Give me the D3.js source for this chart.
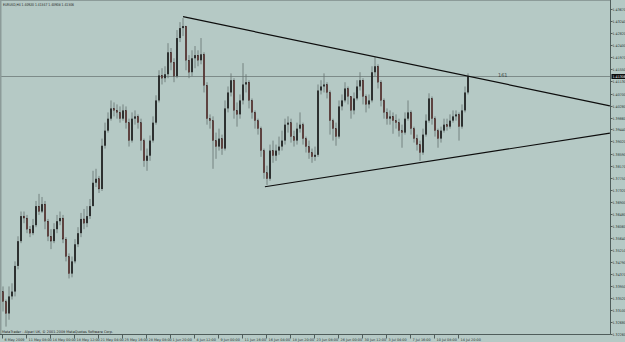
<!DOCTYPE html>
<html>
<head>
<meta charset="utf-8">
<script src="https://cdnjs.cloudflare.com/ajax/libs/d3/7.8.5/d3.min.js"></script>
<style>
  body { margin: 0; background: #b5c9c5; }
  svg { display: block; font-family: "DejaVu Sans", sans-serif; }
  .narrow { font-family: "Liberation Sans Narrow", "DejaVu Sans Condensed", sans-serif; }
</style>
</head>
<body>
<div id="container"></div>
<script>
// EURUSD H4 candles (two H4 bars per candle), open = previous close
const firstOpen = 1.3375;
const closes = [
  1.3340,1.3298,1.3358,1.3375,1.3465,1.3552,1.3640,1.3633,1.3594,1.3580,
  1.3608,1.3675,1.3656,1.3682,1.3622,1.3569,1.3552,1.3594,1.3622,1.3633,
  1.3559,1.3498,1.3438,1.3481,1.3541,1.3580,1.3630,1.3615,1.3640,1.3675,
  1.3757,1.3771,1.3735,1.3887,1.3940,1.3982,1.4018,1.4011,1.4004,1.3982,
  1.4011,1.3968,1.3905,1.3982,1.3990,1.3968,1.3905,1.3834,1.3852,1.3905,
  1.3968,1.4046,1.4134,1.4124,1.4138,1.4215,1.4180,1.4131,1.4265,1.4300,
  1.4307,1.4187,1.4145,1.4194,1.4205,1.4187,1.4208,1.4099,1.3982,1.3975,
  1.3905,1.3884,1.3912,1.3877,1.4018,1.4074,1.4117,1.4011,1.3997,1.4046,
  1.4102,1.4110,1.4046,1.4004,1.3975,1.3947,1.3870,1.3792,1.3771,1.3870,
  1.3852,1.3870,1.3884,1.3905,1.3961,1.3968,1.3919,1.3905,1.3947,1.3961,
  1.3912,1.3884,1.3863,1.3848,1.3855,1.4081,1.4095,1.4102,1.4074,1.3975,
  1.3947,1.3919,1.4025,1.4046,1.4088,1.4060,1.4011,1.4053,1.4095,1.4117,
  1.4060,1.4032,1.4046,1.4145,1.4166,1.4110,1.4046,1.4004,1.3982,1.3990,
  1.3975,1.3968,1.3940,1.3933,1.3982,1.4004,1.3947,1.3912,1.3891,1.3863,
  1.3926,1.3975,1.4053,1.3982,1.3940,1.3912,1.3940,1.3961,1.3954,1.3975,
  1.3990,1.3997,1.3954,1.4011,1.4074,1.41306
];
const highs = [
  1.3393,1.3347,1.3393,1.3404,1.3481,1.3569,1.3656,1.3656,1.3644,1.3605,
  1.3630,1.3693,1.3718,1.3707,1.3693,1.3630,1.3594,1.3615,1.3644,1.3656,
  1.3644,1.3566,1.3509,1.3498,1.3559,1.3601,1.3651,1.3665,1.3675,1.3700,
  1.3799,1.3806,1.3781,1.3912,1.3968,1.4004,1.4046,1.4039,1.4032,1.4025,
  1.4032,1.4025,1.3982,1.4004,1.4011,1.3997,1.3982,1.3912,1.3877,1.3923,
  1.3990,1.4064,1.4152,1.4159,1.4166,1.4247,1.4230,1.4194,1.4293,1.4321,
  1.4335,1.4307,1.4205,1.4222,1.4237,1.4222,1.4265,1.4215,1.4110,1.3997,
  1.3990,1.3933,1.3947,1.3926,1.4046,1.4095,1.4141,1.4124,1.4039,1.4067,
  1.4177,1.4138,1.4117,1.4053,1.4011,1.3982,1.3954,1.3877,1.3817,1.3891,
  1.3905,1.3891,1.3919,1.3940,1.3982,1.3990,1.3982,1.3940,1.3968,1.4004,
  1.3968,1.3919,1.3905,1.3877,1.3884,1.4102,1.4117,1.4141,1.4110,1.4081,
  1.3982,1.3968,1.4046,1.4067,1.4110,1.4095,1.4060,1.4074,1.4117,1.4145,
  1.4124,1.4067,1.4067,1.4166,1.4198,1.4173,1.4117,1.4053,1.4018,1.4011,
  1.4004,1.3997,1.3982,1.3961,1.4004,1.4046,1.4011,1.3954,1.3926,1.3905,
  1.3947,1.3997,1.4071,1.4060,1.3990,1.3947,1.3954,1.3982,1.3982,1.3997,
  1.4011,1.4011,1.4004,1.4032,1.4095,1.4141
];
const lows = [
  1.3305,1.3252,1.3276,1.3347,1.3358,1.3453,1.3545,1.3615,1.3580,1.3566,
  1.3573,1.3601,1.3644,1.3651,1.3594,1.3552,1.3524,1.3545,1.3580,1.3608,
  1.3545,1.3481,1.3421,1.3425,1.3474,1.3531,1.3566,1.3594,1.3601,1.3630,
  1.3675,1.3742,1.3721,1.3728,1.3877,1.3933,1.3975,1.3990,1.3982,1.3968,
  1.3975,1.3947,1.3884,1.3898,1.3961,1.3947,1.3870,1.3813,1.3799,1.3834,
  1.3898,1.3961,1.4039,1.4102,1.4110,1.4124,1.4152,1.4110,1.4124,1.4251,
  1.4272,1.4152,1.4124,1.4131,1.4159,1.4166,1.4173,1.4074,1.3961,1.3947,
  1.3806,1.3841,1.3870,1.3855,1.3870,1.4004,1.4060,1.3982,1.3954,1.3982,
  1.4032,1.4074,1.4018,1.3982,1.3947,1.3926,1.3848,1.3771,1.3749,1.3764,
  1.3827,1.3834,1.3855,1.3870,1.3891,1.3933,1.3898,1.3884,1.3891,1.3933,
  1.3891,1.3863,1.3841,1.3827,1.3834,1.3848,1.4067,1.4074,1.4053,1.3926,
  1.3905,1.3887,1.3912,1.4011,1.4039,1.4032,1.3982,1.3997,1.4046,1.4081,
  1.4032,1.4004,1.4018,1.4039,1.4131,1.4088,1.4025,1.3982,1.3961,1.3961,
  1.3929,1.3947,1.3919,1.3880,1.3926,1.3975,1.3926,1.3898,1.3870,1.3834,
  1.3855,1.3919,1.3968,1.3961,1.3919,1.3880,1.3898,1.3933,1.3940,1.3947,
  1.3968,1.3975,1.3905,1.3947,1.4004,1.4067
];

// right price scale labels
const priceTicks = [
  1.43670,1.43240,1.42820,1.42400,1.41970,1.41550,1.41130,1.40700,1.40280,1.39860,
  1.39440,1.39020,1.38590,1.38170,1.37750,1.37320,1.36900,1.36480,1.36060,1.35640,
  1.35210,1.34790,1.34370,1.33950,1.33520,1.33100,1.32680,1.32260
];

// bottom time labels and the candle they sit on
const timeLabels = [
  "6 May 2009","11 May 08:00","14 May 00:00","18 May 12:00","21 May 04:00",
  "25 May 16:00","28 May 08:00","1 Jun 20:00","4 Jun 12:00","9 Jun 00:00",
  "11 Jun 16:00","16 Jun 04:00","18 Jun 20:00","23 Jun 08:00","26 Jun 00:00",
  "30 Jun 12:00","3 Jul 04:00","7 Jul 16:00","10 Jul 08:00","14 Jul 20:00"
];
const timeIdx = [0,8,16,24,32,40,48,56,64,72,80,88,96,104,112,120,128,136,144,152];

// hand drawn trend lines: [candle index, price]
const upperTrend = [[60, 1.4340], [202.3, 1.4027]];
const lowerTrend = [[87.3, 1.3743], [202.3, 1.3931]];

const lastPrice = 1.41306;
const headerText = "EURUSD,H4  1.40920 1.41347 1.40908 1.41306";
const footerText = "MetaTrader - Alpari UK, \u00a9 2001-2009 MetaQuotes Software Corp.";

const W = 625, H = 342;
const plotRight = 610.5, plotBottom = 334.5;

const svg = d3.select("#container").append("svg")
  .attr("width", W).attr("height", H);

svg.append("rect").attr("width", W).attr("height", H).attr("fill", "#b5c9c5");

const x = d3.scaleLinear().domain([0, 155]).range([3, 468]);
const y = d3.scaleLinear().domain([1.32260, 1.43670]).range([334, 9]);

svg.append("clipPath").attr("id", "plot")
  .append("rect").attr("x", 1).attr("y", 1)
  .attr("width", plotRight - 1).attr("height", plotBottom - 1);

const plot = svg.append("g").attr("clip-path", "url(#plot)");

// current price line
const ly = Math.round(y(lastPrice)) + 0.5;
plot.append("line")
  .attr("x1", 0).attr("x2", plotRight)
  .attr("y1", ly).attr("y2", ly)
  .attr("stroke", "#7d8b89").attr("stroke-width", 1);

// build candle objects
const candles = closes.map((c, i) => ({
  i: i,
  o: i === 0 ? firstOpen : closes[i - 1],
  c: c,
  h: highs[i],
  l: lows[i]
}));

const cg = plot.append("g");

// wicks
cg.selectAll("line.wick").data(candles).enter().append("line")
  .attr("class", "wick")
  .attr("x1", d => x(d.i)).attr("x2", d => x(d.i))
  .attr("y1", d => y(Math.max(d.h, d.o, d.c)))
  .attr("y2", d => y(Math.min(d.l, d.o, d.c)))
  .attr("stroke", "#66716f")
  .attr("stroke-width", 0.8);

// bodies
cg.selectAll("rect.body").data(candles).enter().append("rect")
  .attr("class", "body")
  .attr("x", d => x(d.i) - 0.8)
  .attr("width", 1.6)
  .attr("y", d => y(Math.max(d.o, d.c)))
  .attr("height", d => Math.max(1, Math.abs(y(d.o) - y(d.c))))
  .attr("fill", d => d.c >= d.o ? "#151515" : "#6e3f3c")
  .attr("stroke", d => d.c >= d.o ? "none" : "#2a2020")
  .attr("stroke-width", 0.3);

// trend lines
const trendLine = d3.line().x(d => x(d[0])).y(d => y(d[1]));
[upperTrend, lowerTrend].forEach(t => {
  plot.append("path")
    .attr("d", trendLine(t))
    .attr("fill", "none")
    .attr("stroke", "#0d0d0d")
    .attr("stroke-width", 1.2);
});

// object label near the price line
plot.append("text")
  .attr("x", 498).attr("y", 76.5)
  .attr("font-size", 5).attr("fill", "#3a4544")
  .text("161");

// frame
svg.append("line").attr("x1", 0.5).attr("x2", 0.5).attr("y1", 0).attr("y2", plotBottom)
  .attr("stroke", "#8c9b99").attr("stroke-width", 2);
svg.append("line").attr("x1", 0).attr("x2", plotRight).attr("y1", 0.5).attr("y2", 0.5)
  .attr("stroke", "#8c9b99").attr("stroke-width", 1);
svg.append("line").attr("x1", plotRight).attr("x2", plotRight).attr("y1", 0).attr("y2", plotBottom)
  .attr("stroke", "#4f5d5b").attr("stroke-width", 1);
svg.append("line").attr("x1", 0).attr("x2", plotRight).attr("y1", plotBottom).attr("y2", plotBottom)
  .attr("stroke", "#4f5d5b").attr("stroke-width", 1);

// price axis on the right, narrow font so the labels fit the window
const yAxis = svg.append("g");
const yt = yAxis.selectAll("g").data(priceTicks).enter().append("g")
  .attr("transform", d => "translate(0," + (Math.round(y(d)) + 0.5) + ")");
yt.append("line").attr("x1", plotRight).attr("x2", plotRight + 2)
  .attr("stroke", "#4f5d5b").attr("stroke-width", 1);
yt.append("text").attr("class", "narrow")
  .attr("x", plotRight + 2).attr("y", 1.2)
  .attr("font-size", 3.6).attr("fill", "#2b3332")
  .text(d => d.toFixed(5));

// last price marker
svg.append("rect").attr("x", plotRight + 1).attr("y", ly - 2.5)
  .attr("width", W - plotRight).attr("height", 5).attr("fill", "#0c0c0c");
svg.append("text").attr("class", "narrow")
  .attr("x", plotRight + 2).attr("y", ly + 1.3)
  .attr("font-size", 3.6).attr("fill", "#e8eeee")
  .text(lastPrice.toFixed(5));

// time axis at the bottom
const xt = svg.append("g").selectAll("g").data(timeIdx).enter().append("g")
  .attr("transform", d => "translate(" + (Math.round(x(d)) - 0.5) + ",0)");
xt.append("line").attr("y1", plotBottom).attr("y2", plotBottom + 4)
  .attr("stroke", "#4f5d5b").attr("stroke-width", 1);
xt.append("text").attr("x", 2).attr("y", 340.5)
  .attr("font-size", 3.4).attr("fill", "#2b3332")
  .text((d, i) => timeLabels[i]);

// header and copyright text
svg.append("text").attr("x", 3).attr("y", 6)
  .attr("font-size", 3.8).attr("fill", "#1e2524")
  .attr("textLength", 71).attr("lengthAdjust", "spacingAndGlyphs")
  .text(headerText);
svg.append("text").attr("x", 2).attr("y", 333)
  .attr("font-size", 3.5).attr("fill", "#1e2524")
  .attr("textLength", 111).attr("lengthAdjust", "spacingAndGlyphs")
  .text(footerText);
</script>
</body>
</html>
